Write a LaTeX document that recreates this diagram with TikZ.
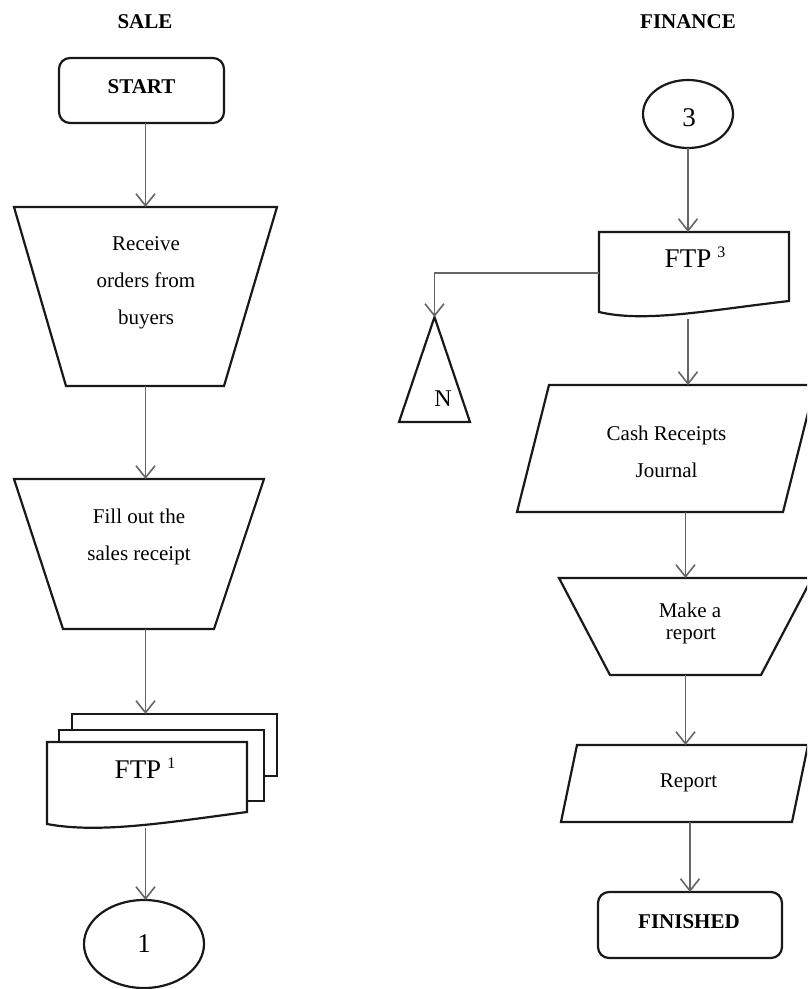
\documentclass[tikz,border=0pt]{standalone}
\usepackage{fontspec}
\setmainfont{Liberation Serif}
\usetikzlibrary{arrows.meta,shapes.geometric}
\newcommand\ftpsup[1]{FTP\hspace{6pt}\raisebox{10pt}{\fontsize{16}{16}\selectfont #1}}
\tikzset{
  geo/.style={inner sep=0pt, outer sep=0pt, draw=none},
  outline/.style={draw=black!90, line width=2.2pt, line join=miter, fill=white},
  arr/.style={draw=black!60, line width=1.6pt, -{Straight Barb[length=12pt,width=19pt,line width=1.6pt]}},
  body/.style={inner sep=0pt, anchor=base, font=\fontsize{21}{25}\selectfont},
  big/.style={inner sep=0pt, anchor=base, font=\fontsize{27}{30}\selectfont},
  head/.style={inner sep=0pt, anchor=base, font=\fontsize{21}{25}\selectfont\bfseries},
  termbox/.style={inner sep=0pt, outer sep=0pt, draw=black!90, line width=2.2pt, rounded corners=11pt, fill=white},
  connector/.style={ellipse, inner sep=0pt, outer sep=0pt, draw=black!90, line width=2.2pt, fill=white}
}
\begin{document}
\begin{tikzpicture}[x=1pt,y=-1pt]
\useasboundingbox (0,0) rectangle (807,989);
\fill[white] (0,0) rectangle (807,989);
\clip (0,0) rectangle (807,989);

% ---------- titles
\node[head] (sale) at (145,28) {SALE};
\node[head] (finance) at (688,28) {FINANCE};

% ---------- SALE column
\node[termbox, minimum width=165pt, minimum height=65pt] (start) at (141.5,90.5) {};
\node[head] (startt) at (141.5,93) {START};

\node[geo, minimum width=263pt, minimum height=179pt] (recv) at (145.5,296.5) {};
\draw[outline] (recv.north west) -- (recv.north east) -- ([xshift=-53pt]recv.south east) -- ([xshift=52pt]recv.south west) -- cycle;
\node[body] (recv1) at (146,250) {Receive};
\node[body] (recv2) at (146,287) {orders from};
\node[body] (recv3) at (146,324) {buyers};

\node[geo, minimum width=250pt, minimum height=150pt] (fill) at (139,554) {};
\draw[outline] (fill.north west) -- (fill.north east) -- ([xshift=-50pt]fill.south east) -- ([xshift=49pt]fill.south west) -- cycle;
\node[body] (fill1) at (139,523) {Fill out the};
\node[body] (fill2) at (139,560) {sales receipt};

% document stack
\node[geo, minimum width=205pt, minimum height=62pt] (docA) at (174.5,745) {};
\draw[outline] (docA.south west) rectangle (docA.north east);
\node[geo, minimum width=205pt, minimum height=71pt] (docB) at (161.5,765.5) {};
\draw[outline] (docB.south west) rectangle (docB.north east);
\node[geo, minimum width=200pt, minimum height=82pt] (docC) at (147,783) {};
\draw[outline] (docC.south west) -- (docC.north west) -- (docC.north east) -- ([yshift=12pt]docC.south east)
  .. controls ([xshift=-77pt,yshift=2pt]docC.south east) and ([xshift=53pt,yshift=-10pt]docC.south west) .. (docC.south west) -- cycle;
\node[big] (ftp1) at (145,778) {\ftpsup{1}};
\coordinate (d1b) at (145.5,828);

\node[connector, minimum width=120pt, minimum height=88pt] (c1) at (144,944) {};
\node[big] (c1t) at (144,952) {1};

% SALE connectors
\draw[arr] (start.south -| recv.north) -- (recv.north);
\draw[arr] (recv.south) -- (recv.south |- fill.north);
\draw[arr] (recv.south |- fill.south) -- (recv.south |- docA.north);
\draw[arr] (d1b) -- (d1b |- c1.north);

% ---------- FINANCE column
\node[connector, minimum width=90pt, minimum height=68pt] (c3) at (688,114) {};
\node[big] (c3t) at (689,126) {3};

\node[geo, minimum width=190pt, minimum height=80pt] (ftp3) at (694,272) {};
\draw[outline] (ftp3.south west) -- (ftp3.north west) -- (ftp3.north east) -- ([yshift=11pt]ftp3.south east)
  .. controls ([xshift=-79pt,yshift=2pt]ftp3.south east) and ([xshift=46pt,yshift=-11pt]ftp3.south west) .. (ftp3.south west) -- cycle;
\node[big] (ftp3t) at (695,267) {\ftpsup{3}};
\coordinate (f3b) at (688,319);

\node[geo, minimum width=71pt, minimum height=105pt] (tri) at (434.5,369.5) {};
\draw[outline] (tri.north) -- (tri.south east) -- (tri.south west) -- cycle;
\node[inner sep=0pt, anchor=base, font=\fontsize{24}{28}\selectfont] (trit) at (443,406) {N};

\node[geo, minimum width=298pt, minimum height=127pt] (cash) at (666,448.5) {};
\draw[outline] ([xshift=32pt]cash.north west) -- (cash.north east) -- ([xshift=-32pt]cash.south east) -- (cash.south west) -- cycle;
\node[body] (cash1) at (666.5,440) {Cash Receipts};
\node[body] (cash2) at (666.5,477) {Journal};

\node[geo, minimum width=253pt, minimum height=97pt] (mk) at (685.5,626.5) {};
\draw[outline] (mk.north west) -- (mk.north east) -- ([xshift=-51pt]mk.south east) -- ([xshift=51pt]mk.south west) -- cycle;
\node[body] (mk1) at (690,617) {Make a};
\node[body] (mk2) at (691,639) {report};

\node[geo, minimum width=247pt, minimum height=77pt] (rep) at (684.5,783.5) {};
\draw[outline] ([xshift=16pt]rep.north west) -- (rep.north east) -- ([xshift=-16pt]rep.south east) -- (rep.south west) -- cycle;
\node[body] (rept) at (688.5,787) {Report};

\node[termbox, minimum width=184pt, minimum height=66pt] (fin) at (690,925) {};
\node[head] (fint) at (689,928) {FINISHED};

% FINANCE connectors
\draw[arr] (c3.south) -- (c3.south |- ftp3.north);
\draw[arr] ([yshift=-1pt]ftp3.west) -| (tri.north);
\draw[arr] (f3b) -- (f3b |- cash.north);
\draw[arr] (mk.north |- cash.south) -- (mk.north);
\draw[arr] (mk.south) -- (mk.south |- rep.north);
\draw[arr] (fin.north |- rep.south) -- (fin.north);
\end{tikzpicture}
\end{document}
